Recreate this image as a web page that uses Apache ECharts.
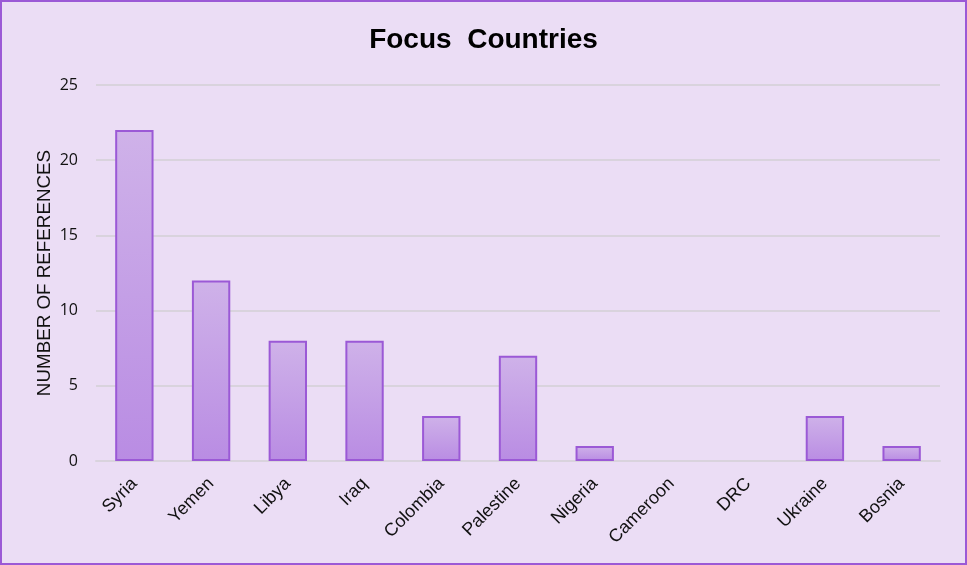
<!DOCTYPE html>
<html><head><meta charset="utf-8">
<script src="https://cdn.jsdelivr.net/npm/echarts@6/dist/echarts.min.js"></script>
<style>html,body{margin:0;padding:0;}#c{width:967px;height:565px;}</style>
</head><body><div id="c"></div>
<script>
const categories = ['Syria','Yemen','Libya','Iraq','Colombia','Palestine','Nigeria','Cameroon','DRC','Ukraine','Bosnia'];
const references = [22,12,8,8,3,7,1,0,0,3,1];
const yTicks = [0,5,10,15,20,25];

const barData = references.map(v => v === 0 ? {value: v, itemStyle: {borderWidth: 0}} : v);

const chart = echarts.init(document.getElementById('c'));
chart.setOption({
  backgroundColor: '#EBDDF5',
  animation: false,
  title: {
    text: 'Focus  Countries', left: 'center', top: 21,
    textStyle: {fontFamily: 'Liberation Sans, Arial', fontSize: 28, fontWeight: 'bold', color: '#000'}
  },
  graphic: [{type: 'rect', shape: {x: 1, y: 1, width: 965, height: 563}, style: {fill: 'none', stroke: '#9B59D6', lineWidth: 2}}],
  grid: {left: 96, right: 27, top: 85, bottom: 104},
  xAxis: {
    type: 'category', data: categories,
    axisLine: {lineStyle: {color: '#D9D3DD', width: 2}},
    axisTick: {show: false},
    axisLabel: {rotate: 45, margin: 20, fontFamily: 'Liberation Sans, Arial', fontSize: 18, color: '#111', interval: 0}
  },
  yAxis: {
    type: 'value', min: yTicks[0], max: yTicks[yTicks.length-1], interval: 5,
    name: 'NUMBER OF REFERENCES', nameLocation: 'middle', nameGap: 42, nameMoveOverlap: false,
    nameTextStyle: {fontFamily: 'Liberation Sans, Arial', fontSize: 18.8, color: '#111'},
    axisLine: {show: false}, axisTick: {show: false},
    axisLabel: {fontFamily: 'Open Sans', fontSize: 16, color: '#111', margin: 18},
    splitLine: {lineStyle: {color: '#D9D3DD', width: 2}}
  },
  series: [{
    type: 'bar', data: barData, barWidth: '50%',
    itemStyle: {
      color: new echarts.graphic.LinearGradient(0,0,0,1,[{offset:0,color:'#CFB2E9'},{offset:1,color:'#B98CE3'}]),
      borderColor: '#9B59D6', borderWidth: 2
    }
  }]
});
</script></body></html>
